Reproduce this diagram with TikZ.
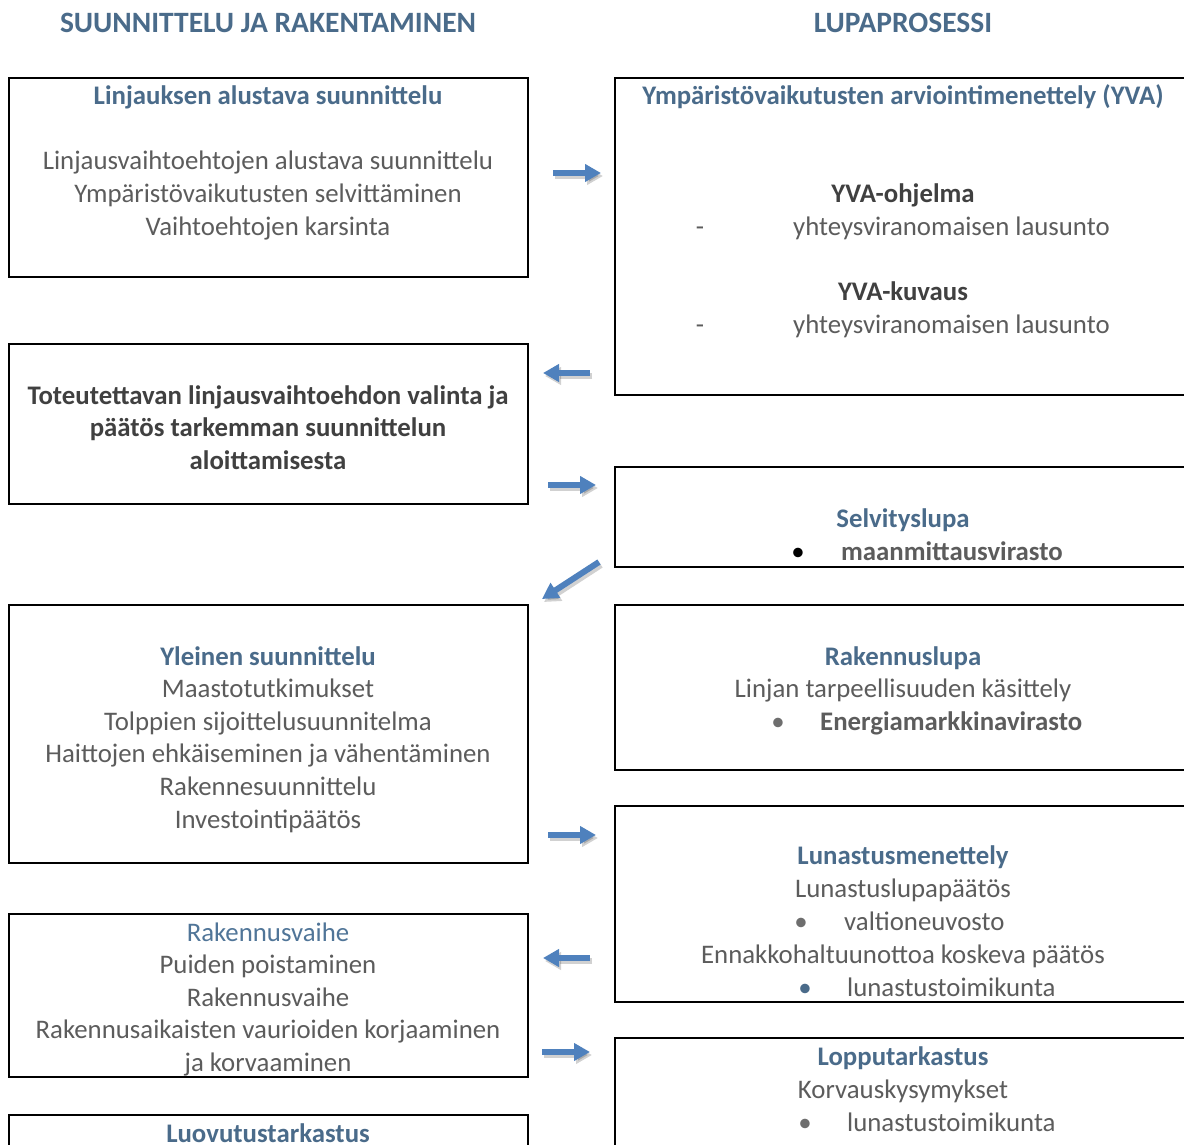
\documentclass[tikz,border=0pt]{standalone}
\usepackage{fontspec}
\setmainfont{Carlito}
\usetikzlibrary{arrows.meta}
\definecolor{headblue}{RGB}{74,107,138}
\definecolor{lightblue}{RGB}{80,117,152}
\definecolor{txtgray}{RGB}{92,92,92}
\definecolor{darktxt}{RGB}{64,64,64}
\definecolor{arrowblue}{RGB}{79,129,189}
\definecolor{bulletgray}{RGB}{110,110,110}
\newcommand{\bodyfont}{\fontsize{26.8}{32}\selectfont}
\begin{document}
\begin{tikzpicture}[x=1pt,y=-1pt,
  boxnode/.style={draw=black, line width=2.4pt, rectangle, inner sep=0pt},
  bodytxt/.style={anchor=base, inner sep=0pt, text=txtgray, font=\bodyfont},
  headtxt/.style={anchor=base, inner sep=0pt, text=headblue, font=\bodyfont\bfseries},
  coltxt/.style={anchor=base, inner sep=0pt, text=headblue, font=\fontsize{29.5}{34}\selectfont\bfseries},
  darkbold/.style={anchor=base, inner sep=0pt, text=darktxt, font=\bodyfont\bfseries},
  graybold/.style={anchor=base, inner sep=0pt, text=txtgray, font=\bodyfont\bfseries},
  blockarrow/.style={line width=6pt, arrowblue, -{Triangle[length=16pt,width=17pt]}},
  arrowshadow/.style={line width=6pt, black, opacity=0.18, -{Triangle[length=16pt,width=17pt]}}
]
\useasboundingbox (0,0) rectangle (1184,1145);
\clip (0,0) rectangle (1184,1145);
\fill[white] (0,0) rectangle (1184,1145);

% column headers
\node[coltxt] (hl) at (268,33) {SUUNNITTELU JA RAKENTAMINEN};
\node[coltxt] (hr) at (903,33) {LUPAPROSESSI};

% left boxes
\node[boxnode, minimum width=519pt, minimum height=199pt] (L1) at (268.5,177.5) {};
\node[boxnode, minimum width=519pt, minimum height=160pt] (L2) at (268.5,424) {};
\node[boxnode, minimum width=519pt, minimum height=258pt] (L3) at (268.5,734) {};
\node[boxnode, minimum width=519pt, minimum height=163pt] (L4) at (268.5,995.5) {};
\node[boxnode, minimum width=519pt, minimum height=90pt] (L5) at (268.5,1160) {};

% right boxes
\node[boxnode, minimum width=576pt, minimum height=317pt] (R1) at (903,236.5) {};
\node[boxnode, minimum width=576pt, minimum height=100pt] (R2) at (903,517) {};
\node[boxnode, minimum width=576pt, minimum height=165pt] (R3) at (903,687.5) {};
\node[boxnode, minimum width=576pt, minimum height=196pt] (R4) at (903,904) {};
\node[boxnode, minimum width=576pt, minimum height=170pt] (R5) at (903,1123) {};

% L1 text
\node[headtxt] (l1t) at (268,105) {Linjauksen alustava suunnittelu};
\node[bodytxt] (l1a) at (268,170) {Linjausvaihtoehtojen alustava suunnittelu};
\node[bodytxt] (l1b) at (268,202) {Ympäristövaikutusten selvittäminen};
\node[bodytxt] (l1c) at (268,235) {Vaihtoehtojen karsinta};

% L2 text
\node[darkbold] (l2a) at (268,404) {Toteutettavan linjausvaihtoehdon valinta ja};
\node[darkbold] (l2b) at (268,436) {päätös tarkemman suunnittelun};
\node[darkbold] (l2c) at (268,469) {aloittamisesta};

% L3 text
\node[headtxt] (l3t) at (268,665) {Yleinen suunnittelu};
\node[bodytxt] (l3a) at (268,697) {Maastotutkimukset};
\node[bodytxt] (l3b) at (268,730) {Tolppien sijoittelusuunnitelma};
\node[bodytxt] (l3c) at (268,762) {Haittojen ehkäiseminen ja vähentäminen};
\node[bodytxt] (l3d) at (268,795) {Rakennesuunnittelu};
\node[bodytxt] (l3e) at (268,828) {Investointipäätös};

% L4 text
\node[bodytxt, text=lightblue] (l4t) at (268,941) {Rakennusvaihe};
\node[bodytxt] (l4a) at (268,973) {Puiden poistaminen};
\node[bodytxt] (l4b) at (268,1006) {Rakennusvaihe};
\node[bodytxt] (l4c) at (268,1038) {Rakennusaikaisten vaurioiden korjaaminen};
\node[bodytxt] (l4d) at (268,1071) {ja korvaaminen};

% L5 text
\node[headtxt] (l5t) at (268,1142) {Luovutustarkastus};

% R1 text
\node[headtxt] (r1t) at (903,105) {Ympäristövaikutusten arviointimenettely (YVA)};
\node[darkbold] (r1a) at (903,202) {YVA-ohjelma};
\node[bodytxt] (r1d1) at (700,235) {-};
\node[bodytxt, anchor=base west] (r1b) at (793,235) {yhteysviranomaisen lausunto};
\node[darkbold] (r1c) at (903,300) {YVA-kuvaus};
\node[bodytxt] (r1d2) at (700,333) {-};
\node[bodytxt, anchor=base west] (r1e) at (793,333) {yhteysviranomaisen lausunto};

% R2 text
\node[headtxt] (r2t) at (903,527) {Selvityslupa};
\node[bodytxt, text=black] (r2bul) at (798,560) {•};
\node[graybold, anchor=base west] (r2a) at (841,560) {maanmittausvirasto};

% R3 text
\node[headtxt] (r3t) at (903,665) {Rakennuslupa};
\node[bodytxt] (r3a) at (903,697) {Linjan tarpeellisuuden käsittely};
\node[bodytxt, text=bulletgray] (r3bul) at (778,730) {•};
\node[graybold, anchor=base west] (r3b) at (820,730) {Energiamarkkinavirasto};

% R4 text
\node[headtxt] (r4t) at (903,864) {Lunastusmenettely};
\node[bodytxt] (r4a) at (903,897) {Lunastuslupapäätös};
\node[bodytxt, text=bulletgray] (r4bul1) at (801,930) {•};
\node[bodytxt, anchor=base west] (r4b) at (844,930) {valtioneuvosto};
\node[bodytxt] (r4c) at (903,963) {Ennakkohaltuunottoa koskeva päätös};
\node[bodytxt, text=headblue] (r4bul2) at (805,996) {•};
\node[bodytxt, anchor=base west] (r4d) at (847,996) {lunastustoimikunta};

% R5 text
\node[headtxt] (r5t) at (903,1065) {Lopputarkastus};
\node[bodytxt] (r5a) at (903,1098) {Korvauskysymykset};
\node[bodytxt, text=bulletgray] (r5bul) at (805,1131) {•};
\node[bodytxt, anchor=base west] (r5b) at (847,1131) {lunastustoimikunta};

% arrow end points
\coordinate (a1s) at (553,173); \coordinate (a1e) at (601,173);
\coordinate (a2s) at (590,373); \coordinate (a2e) at (543,373);
\coordinate (a3s) at (548,485); \coordinate (a3e) at (596,485);
\coordinate (a4s) at (599,562); \coordinate (a4e) at (542,599);
\coordinate (a5s) at (548,835); \coordinate (a5e) at (596,835);
\coordinate (a6s) at (590,958); \coordinate (a6e) at (543,958);
\coordinate (a7s) at (542,1052); \coordinate (a7e) at (590,1052);

\foreach \a in {a1,a2,a3,a4,a5,a6,a7}{
  \draw[arrowshadow] ([shift={(2,3)}]\a s) -- ([shift={(2,3)}]\a e);
  \draw[blockarrow] (\a s) -- (\a e);
}
\end{tikzpicture}
\end{document}
